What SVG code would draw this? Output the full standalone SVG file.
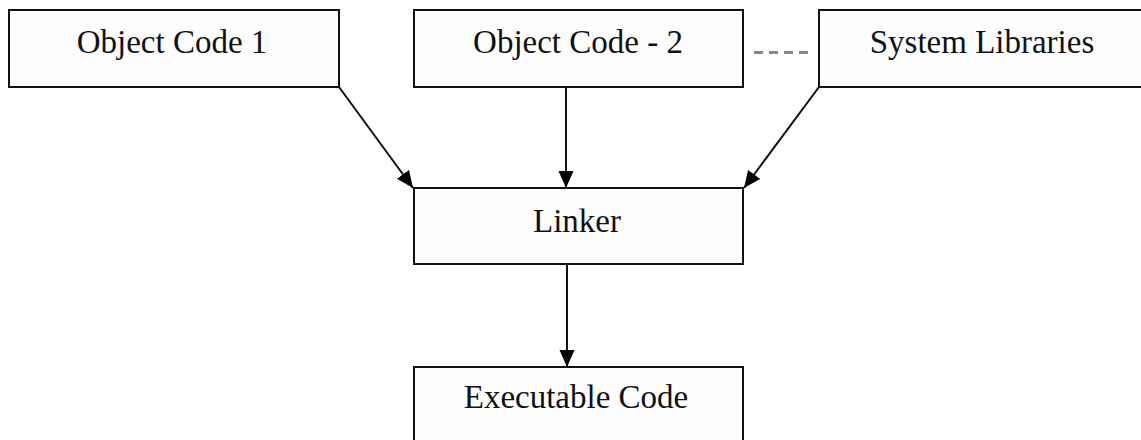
<svg xmlns="http://www.w3.org/2000/svg" width="1141" height="440" viewBox="0 0 1141 440">
  <style>
    .box { fill: #fdfdfd; stroke: #111; stroke-width: 2; }
    .lbl { font-family: "Liberation Serif", "Times New Roman", serif; font-size: 33px; fill: #111; text-anchor: middle; }
    .edge { stroke: #111; stroke-width: 2; fill: none; marker-end: url(#arrow); }
    .dash { stroke: #888; stroke-width: 3; stroke-dasharray: 9 6; fill: none; }
  </style>
  <defs>
    <marker id="arrow" markerUnits="userSpaceOnUse" markerWidth="18" markerHeight="16" refX="17" refY="7.5" orient="auto">
      <path d="M0,0 L17,7.5 L0,15 z" fill="#000"/>
    </marker>
  </defs>
  <rect width="1141" height="440" fill="#ffffff"/>
  <g id="connectors">
    <line class="edge" x1="339" y1="87" x2="413" y2="188"/>
    <line class="edge" x1="566" y1="87" x2="566" y2="188"/>
    <line class="edge" x1="819" y1="87" x2="744" y2="188"/>
    <line class="edge" x1="567" y1="264" x2="567" y2="367"/>
    <line class="dash" x1="754" y1="52.5" x2="808" y2="52.5"/>
  </g>
  <g id="object-code-1">
    <rect class="box" x="9" y="10" width="330" height="77"/>
    <text class="lbl" x="172" y="53">Object Code 1</text>
  </g>
  <g id="object-code-2">
    <rect class="box" x="414" y="10" width="329" height="77"/>
    <text class="lbl" x="578" y="53">Object Code - 2</text>
  </g>
  <g id="system-libraries">
    <rect class="box" x="819" y="10" width="330" height="77"/>
    <text class="lbl" x="982" y="53">System Libraries</text>
  </g>
  <g id="linker">
    <rect class="box" x="414" y="188" width="329" height="76"/>
    <text class="lbl" x="577" y="232">Linker</text>
  </g>
  <g id="executable-code">
    <rect class="box" x="414" y="367" width="329" height="85"/>
    <text class="lbl" x="576" y="408">Executable Code</text>
  </g>
</svg>
